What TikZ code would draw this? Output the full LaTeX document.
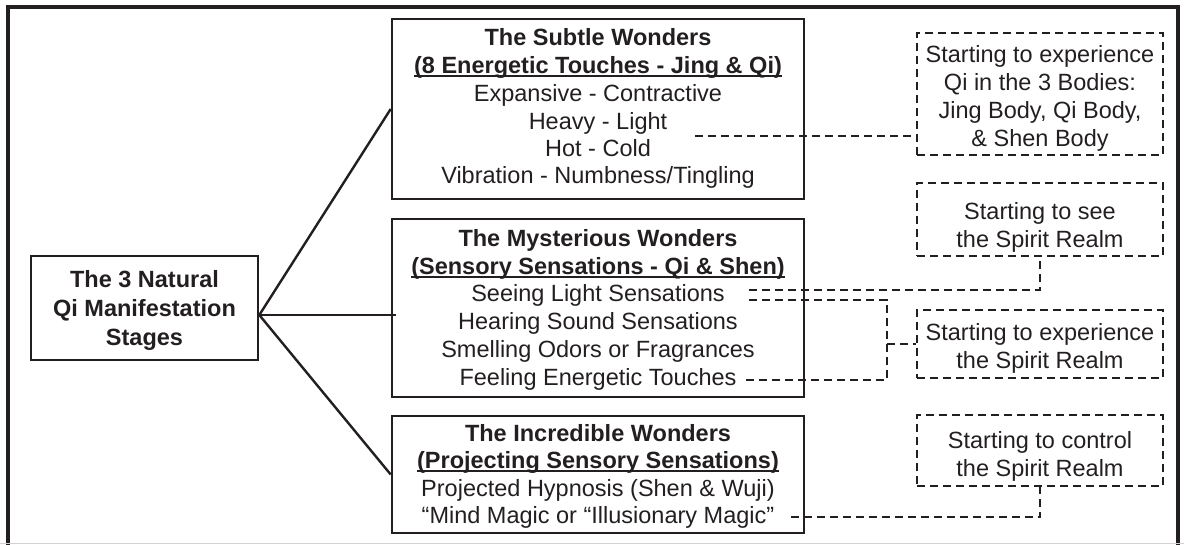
\documentclass[tikz,border=0pt]{standalone}
\usepackage{fontspec}
\setmainfont{Liberation Sans}
\usetikzlibrary{calc}
\definecolor{ink}{RGB}{35,31,32}
\newcommand{\ulbar}[1]{\setbox0\hbox{#1}\rlap{\rule[-3.5pt]{\wd0}{1.9pt}}\box0}
\begin{document}
\begin{tikzpicture}[x=1pt,y=-1pt,ink,
  frame/.style={line width=3.2pt},
  solidbox/.style={draw, line width=2.6pt, rectangle, inner sep=0pt},
  dashbox/.style={draw, line width=2.4pt, dash pattern=on 8pt off 5pt, rectangle, inner sep=0pt},
  txt/.style={font=\fontsize{23.5}{28}\selectfont, inner sep=0pt, text height=17pt, text depth=0pt, text=ink},
  btxt/.style={txt, font=\fontsize{23.5}{28}\selectfont\bfseries},
  link/.style={line width=2.4pt},
  dlink/.style={line width=2.4pt, dash pattern=on 8pt off 5pt},
]
\useasboundingbox (0,0) rectangle (1184,545);
% frame
\draw[frame] (8,545) -- (8,7) -- (1178,7) -- (1178,545);
\draw[gray!35, line width=1.5pt] (0,543.5) -- (1184,543.5);

% boxes
\node[solidbox, minimum width=227pt, minimum height=104pt] (main) at (144.5,308) {};
\node[solidbox, minimum width=412pt, minimum height=180pt] (sub) at (598,109) {};
\node[solidbox, minimum width=412pt, minimum height=178pt] (mys) at (598,308) {};
\node[solidbox, minimum width=412pt, minimum height=117pt] (inc) at (598,474.5) {};
\node[dashbox, minimum width=246pt, minimum height=122pt] (qibox) at (1040,94) {};
\node[dashbox, minimum width=246pt, minimum height=73pt] (seebox) at (1040,219.5) {};
\node[dashbox, minimum width=246pt, minimum height=68pt] (expbox) at (1040,344) {};
\node[dashbox, minimum width=246pt, minimum height=71pt] (ctrlbox) at (1040,450.5) {};

% main text
\node[btxt] (mainA) at (144.5,279) {The 3 Natural};
\node[btxt] (mainB) at (144.5,308) {Qi Manifestation};
\node[btxt] (mainC) at (144.5,337) {Stages};

% subtle wonders
\node[btxt] (subT) at (598,37) {The Subtle Wonders};
\node[btxt] (subS) at (598,65) {\ulbar{(8 Energetic Touches - Jing \& Qi)}};
\node[txt] (expan) at (598,93) {Expansive - Contractive};
\node[txt] (heavy) at (598,121) {Heavy - Light};
\node[txt] (hot) at (598,148) {Hot - Cold};
\node[txt] (vib) at (598,175) {Vibration - Numbness/Tingling};

% mysterious wonders
\node[btxt] (mysT) at (598,238) {The Mysterious Wonders};
\node[btxt] (mysS) at (598,266) {\ulbar{(Sensory Sensations - Qi \& Shen)}};
\node[txt] (seeing) at (598,293) {Seeing Light Sensations};
\node[txt] (hearing) at (598,321) {Hearing Sound Sensations};
\node[txt] (smelling) at (598,349) {Smelling Odors or Fragrances};
\node[txt] (feeling) at (598,377) {Feeling Energetic Touches};

% incredible wonders
\node[btxt] (incT) at (598,433) {The Incredible Wonders};
\node[btxt] (incS) at (598,460) {\ulbar{(Projecting Sensory Sensations)}};
\node[txt] (proj) at (598,488) {Projected Hypnosis (Shen \& Wuji)};
\node[txt] (mind) at (598,515) {“Mind Magic or “Illusionary Magic”};

% dashed boxes text
\node[txt] (qiA) at (1040,54) {Starting to experience};
\node[txt] (qiB) at (1040,82) {Qi in the 3 Bodies:};
\node[txt] (qiC) at (1040,110) {Jing Body, Qi Body,};
\node[txt] (qiD) at (1040,138) {\& Shen Body};
\node[txt] (seeA) at (1040,211) {Starting to see};
\node[txt] (seeB) at (1040,239) {the Spirit Realm};
\node[txt] (expA) at (1040,332) {Starting to experience};
\node[txt] (expB) at (1040,360) {the Spirit Realm};
\node[txt] (ctrlA) at (1040,440) {Starting to control};
\node[txt] (ctrlB) at (1040,468) {the Spirit Realm};

% solid connectors
\coordinate (hub) at ($(main.east)+(0,7)$);
\draw[link] (hub) -- (sub.west);
\draw[link] (hub) -- ($(hub -| mys.west)+(5,0)$);
\draw[link] (hub) -- (inc.west);

% dashed connectors
\coordinate (hq) at ($(heavy.east)+(28,15)$);
\draw[dlink] (hq) -- (hq -| qibox.west);
\coordinate (s1) at ($(seeing.east)+(24,-3)$);
\draw[dlink] (s1) -| (seebox.south);
\coordinate (s2) at ($(seeing.east)+(24,7)$);
\coordinate (br) at ($(expbox.west)+(-29,0)$);
\coordinate (f1) at ($(feeling.east)+(9,3)$);
\draw[dlink] (s2) -| (br) |- (f1);
\draw[dlink] (br) -- (expbox.west);
\coordinate (m1) at ($(mind.east)+(16,2)$);
\draw[dlink] (m1) -| (ctrlbox.south);
\end{tikzpicture}
\end{document}
